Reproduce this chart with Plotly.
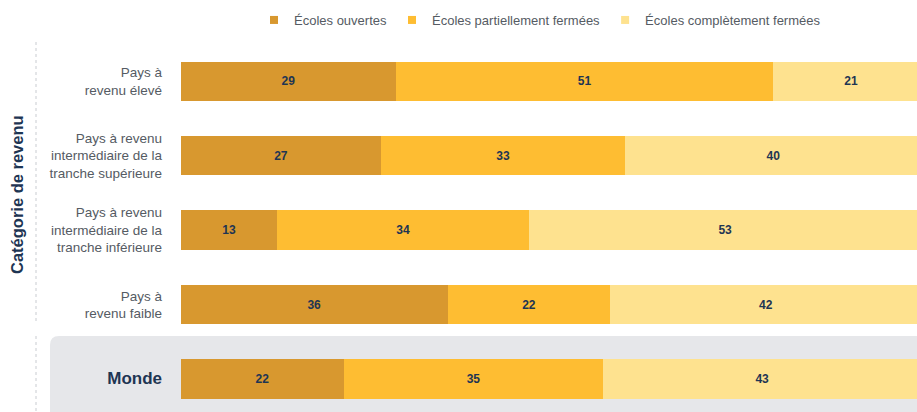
import plotly.graph_objects as go

# Données (en %)
categories = [
    "Pays à<br>revenu élevé",
    "Pays à revenu<br>intermédiaire de la<br>tranche supérieure",
    "Pays à revenu<br>intermédiaire de la<br>tranche inférieure",
    "Pays à<br>revenu faible",
    "Monde",
]
series_names = ["Écoles ouvertes", "Écoles partiellement fermées", "Écoles complètement fermées"]
ouvertes = [29, 27, 13, 36, 22]
partiellement = [51, 33, 34, 22, 35]
completement = [21, 40, 53, 42, 43]

COLORS = ["#D8982F", "#FEBD32", "#FEE28F"]
NAVY = "#1E3553"
GRAY = "#555B63"
FONT = "Liberation Sans, Arial, sans-serif"

W, H = 917, 412
L, T = 181, 44

fig = go.Figure()

for name, vals, col in zip(series_names, [ouvertes, partiellement, completement], COLORS):
    fig.add_trace(go.Bar(
        y=list(range(len(categories))),
        x=vals,
        name=name,
        orientation="h",
        marker=dict(color=col, line=dict(width=0)),
        text=vals,
        texttemplate="<b>%{text}</b>",
        textposition="inside",
        insidetextanchor="middle",
        textfont=dict(size=12, color=NAVY, family=FONT),
        constraintext="none",
        showlegend=False,
    ))
    # entrée de légende (petit carré)
    fig.add_trace(go.Scatter(
        x=[None], y=[None], mode="markers", name=name,
        marker=dict(symbol="square", size=8, color=col),
    ))

# libellés des catégories
ticktext = [
    c if c != "Monde" else "<span style='font-size:17px;color:%s'><b>Monde</b></span>" % NAVY
    for c in categories
]

pw, ph = W - L, H - T

def px_x(p):
    return (p - L) / pw

def px_y(p):
    return (H - p) / ph

# fond gris de la ligne Monde (coin arrondi en haut à gauche)
x0, x1 = px_x(50), px_x(W + 20)
y0, y1 = px_y(H + 10), px_y(336)
rx, ry = 9 / pw, 9 / ph
path = (f"M {x0},{y0} L {x0},{y1 - ry} Q {x0},{y1} {x0 + rx},{y1} "
        f"L {x1},{y1} L {x1},{y0} Z")

shapes = [
    dict(type="path", xref="paper", yref="paper", path=path,
         fillcolor="#E6E7EA", line=dict(width=0), layer="below"),
    dict(type="line", xref="paper", yref="paper", x0=px_x(36), x1=px_x(36),
         y0=px_y(42), y1=px_y(322), line=dict(color="#C9CCD1", width=1, dash="dot")),
    dict(type="line", xref="paper", yref="paper", x0=px_x(36), x1=px_x(36),
         y0=px_y(336), y1=px_y(H + 5), line=dict(color="#C9CCD1", width=1, dash="dot")),
]

fig.update_layout(
    width=W, height=H,
    margin=dict(l=L, r=0, t=T, b=0),
    barmode="stack",
    bargap=0.47,
    paper_bgcolor="white",
    plot_bgcolor="rgba(0,0,0,0)",
    font=dict(family=FONT, color=GRAY, size=13),
    xaxis=dict(range=[0, 99.4], visible=False, fixedrange=True),
    yaxis=dict(
        tickmode="array",
        tickvals=list(range(len(categories))),
        ticktext=ticktext,
        range=[4.44, -0.5],
        showgrid=False, zeroline=False, showline=False,
        ticks="", ticklabelstandoff=18,
        tickfont=dict(size=13.5, color=GRAY, family=FONT),
        fixedrange=True,
    ),
    legend=dict(
        orientation="h",
        x=px_x(254), xanchor="left",
        y=px_y(20), yanchor="middle",
        font=dict(size=13, color=GRAY, family=FONT),
        traceorder="normal",
        itemwidth=30,
        bgcolor="rgba(0,0,0,0)",
    ),
    shapes=shapes,
    annotations=[dict(
        text="<b>Catégorie de revenu</b>",
        xref="paper", yref="paper",
        x=px_x(17), y=px_y(195),
        xanchor="center", yanchor="middle",
        textangle=-90, showarrow=False,
        font=dict(size=16.5, color=NAVY, family=FONT),
    )],
    showlegend=True,
)

fig.write_html("out.html", config={"displayModeBar": False},
               post_script="document.body.style.margin='0';")
